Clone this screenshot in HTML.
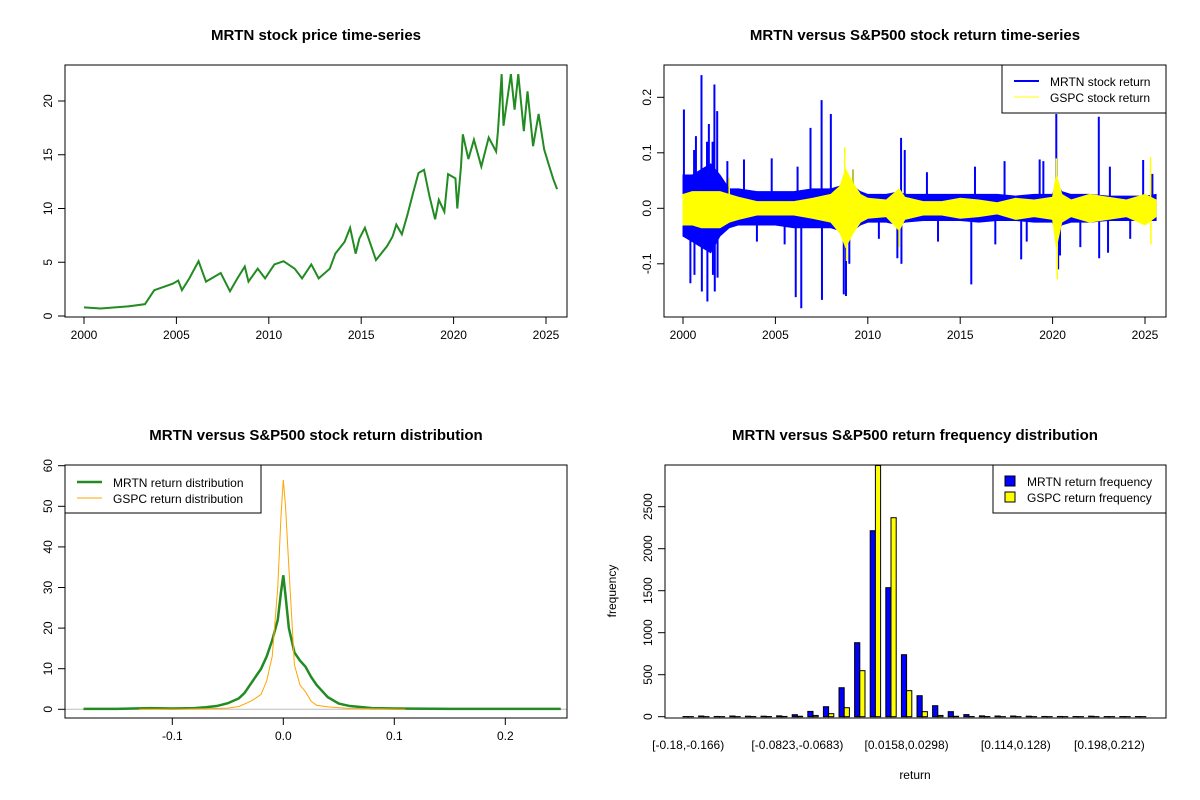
<!DOCTYPE html>
<html><head><meta charset="utf-8"><style>
html,body{margin:0;padding:0;background:#fff}
svg{display:block;font-family:"Liberation Sans",Arial,sans-serif}
.t{font-weight:bold;font-size:15px;text-anchor:middle}
.tk{font-size:12px;text-anchor:middle}
.lg{font-size:12px}
</style></head><body>
<svg id="c" width="1200" height="800" viewBox="0 0 1200 800" xmlns="http://www.w3.org/2000/svg">
<defs>
<clipPath id="cp2"><rect x="664" y="65" width="502" height="252"/></clipPath>
<clipPath id="cp4"><rect x="665" y="465" width="501" height="253"/></clipPath>
</defs>
<text class="t" x="316" y="40">MRTN stock price time-series</text>
<text class="t" x="915" y="40">MRTN versus S&amp;P500 stock return time-series</text>
<text class="t" x="316" y="440">MRTN versus S&amp;P500 stock return distribution</text>
<text class="t" x="915" y="440">MRTN versus S&amp;P500 return frequency distribution</text>
<g id="g1"></g>
<g id="g2"></g>
<g id="g3"></g>
<g id="g4"></g>
<rect x="65" y="65" width="502" height="252" fill="none" stroke="#000"/>
<rect x="664" y="65" width="502" height="252" fill="none" stroke="#000"/>
<rect x="65" y="465" width="502" height="253" fill="none" stroke="#000"/>
<rect x="665" y="465" width="501" height="253" fill="none" stroke="#000"/>
<g>
<rect x="1002" y="65" width="164" height="48" fill="#fff" stroke="#000"/>
<line x1="1014" y1="81" x2="1039" y2="81" stroke="#0000ff" stroke-width="2"/>
<line x1="1014" y1="97" x2="1039" y2="97" stroke="#ffff00" stroke-width="1"/>
<text class="lg" x="1050" y="86">MRTN stock return</text>
<text class="lg" x="1050" y="102">GSPC stock return</text>
</g>
<g>
<rect x="65" y="465" width="196" height="48" fill="#fff" stroke="#000"/>
<line x1="77" y1="482" x2="102" y2="482" stroke="#228b22" stroke-width="2.5"/>
<line x1="77" y1="498" x2="102" y2="498" stroke="#ffa500" stroke-width="1"/>
<text class="lg" x="113" y="487">MRTN return distribution</text>
<text class="lg" x="113" y="503">GSPC return distribution</text>
</g>
<g>
<rect x="993" y="465" width="173" height="48" fill="#fff" stroke="#000"/>
<rect x="1005" y="476" width="10" height="10" fill="#0000ff" stroke="#000"/>
<rect x="1005" y="492" width="10" height="10" fill="#ffff00" stroke="#000"/>
<text class="lg" x="1027" y="486">MRTN return frequency</text>
<text class="lg" x="1027" y="502">GSPC return frequency</text>
</g>
<text class="tk" x="915" y="779">return</text>
<text class="tk" transform="translate(616,591) rotate(-90)">frequency</text>
</svg>
<script>
// ---- price data ----
const priceYears=[2000,2000.9,2002.4,2003.3,2003.8,2004.8,2005.1,2005.3,2005.7,2006.2,2006.6,2007.4,2007.9,2008.3,2008.7,2008.9,2009.4,2009.8,2010.3,2010.8,2011.4,2011.8,2012.3,2012.7,2013.3,2013.6,2014.1,2014.4,2014.7,2014.9,2015.2,2015.6,2015.8,2016.4,2016.7,2016.9,2017.2,2017.5,2017.8,2018.1,2018.4,2018.7,2019.0,2019.2,2019.5,2019.7,2020.1,2020.2,2020.4,2020.5,2020.8,2021.1,2021.5,2021.9,2022.3,2022.4,2022.6,2022.7,2023.1,2023.3,2023.5,2023.8,2024.0,2024.3,2024.6,2024.9,2025.2,2025.4,2025.6];
const priceValues=[0.8,0.7,0.9,1.1,2.4,3.0,3.3,2.4,3.5,5.1,3.2,4.0,2.3,3.5,4.6,3.2,4.4,3.5,4.8,5.1,4.4,3.5,4.8,3.5,4.4,5.8,6.9,8.2,5.8,7.2,8.2,6.2,5.2,6.5,7.4,8.5,7.6,9.4,11.4,13.3,13.6,11.1,9.0,10.8,9.7,13.2,12.8,10.0,13.9,16.9,14.6,16.4,13.9,16.6,15.3,17.2,22.5,17.7,22.5,19.2,22.5,17.2,20.9,15.8,18.8,15.5,13.8,12.7,11.8];
const priceYTicks=[0,5,10,15,20];
const yearTicks=[2000,2005,2010,2015,2020,2025];
// ---- return data ----
const bandYears=[2000,2000.5,2001,2001.5,2002,2002.5,2003,2004,2005,2006,2007,2008,2008.5,2008.8,2009.2,2009.6,2010,2011,2011.7,2012,2013,2014,2015,2016,2017,2018,2019,2020,2020.2,2020.5,2021,2022,2023,2024,2025,2025.6];
const mrtnHigh=[0.06,0.06,0.07,0.08,0.06,0.035,0.035,0.03,0.03,0.03,0.035,0.035,0.04,0.05,0.04,0.03,0.025,0.025,0.03,0.025,0.025,0.025,0.025,0.025,0.025,0.022,0.025,0.025,0.045,0.03,0.025,0.025,0.022,0.022,0.022,0.025];
const mrtnLow=[-0.05,-0.06,-0.07,-0.08,-0.05,-0.035,-0.03,-0.03,-0.03,-0.035,-0.035,-0.035,-0.04,-0.05,-0.04,-0.03,-0.025,-0.025,-0.03,-0.025,-0.022,-0.022,-0.022,-0.025,-0.022,-0.022,-0.025,-0.025,-0.045,-0.03,-0.025,-0.025,-0.022,-0.022,-0.022,-0.022];
const gspcHigh=[0.025,0.03,0.03,0.03,0.03,0.025,0.02,0.012,0.012,0.012,0.018,0.025,0.04,0.07,0.045,0.025,0.018,0.015,0.035,0.02,0.012,0.012,0.018,0.015,0.01,0.018,0.015,0.02,0.06,0.025,0.015,0.025,0.02,0.015,0.025,0.015];
const gspcLow=[-0.03,-0.03,-0.035,-0.035,-0.035,-0.025,-0.02,-0.012,-0.012,-0.012,-0.018,-0.025,-0.045,-0.07,-0.045,-0.025,-0.018,-0.015,-0.04,-0.02,-0.012,-0.012,-0.018,-0.015,-0.01,-0.02,-0.015,-0.02,-0.07,-0.025,-0.015,-0.025,-0.02,-0.015,-0.03,-0.015];
const mrtnSpikeYears=[2000.05,2000.3,2000.6,2000.7,2001.0,2001.3,2001.4,2001.6,2001.7,2001.85,2002.4,2003.3,2004.8,2006.2,2006.9,2007.5,2008.0,2009.2,2011.8,2012.0,2013.2,2015.8,2017.4,2019.3,2019.5,2020.2,2022.5,2023.1,2024.9,2025.4,2000.4,2000.62,2001.02,2001.32,2001.62,2001.72,2001.87,2006.1,2006.4,2007.52,2008.7,2008.82,2009.0,2011.6,2011.82,2015.6,2018.3,2020.3,2020.4,2022.52,2023.0,2004.0,2005.5,2010.6,2013.8,2016.9,2018.6,2021.5,2024.2];
const mrtnSpikeValues=[0.178,0.06,0.105,0.13,0.24,0.12,0.152,0.12,0.223,0.175,0.085,0.088,0.09,0.075,0.145,0.195,0.17,0.07,0.127,0.105,0.065,0.075,0.085,0.088,0.085,0.17,0.165,0.075,0.087,0.062,-0.135,-0.12,-0.15,-0.168,-0.12,-0.15,-0.125,-0.16,-0.18,-0.165,-0.155,-0.158,-0.1,-0.09,-0.1,-0.137,-0.092,-0.11,-0.085,-0.09,-0.08,-0.06,-0.065,-0.055,-0.06,-0.065,-0.06,-0.07,-0.055];
const gspcSpikeYears=[2008.75,2008.85,2009.2,2011.7,2020.2,2020.25,2025.3,2025.32,2002.5];
const gspcSpikeValues=[0.11,-0.095,0.07,-0.07,0.09,-0.128,0.092,-0.065,0.055];
const returnYTicks=[-0.1,0.0,0.1,0.2];
const returnYLabels=["-0.1","0.0","0.1","0.2"];
// ---- density data ----
const mrtnDensX=[-0.18,-0.15,-0.12,-0.1,-0.08,-0.07,-0.06,-0.05,-0.04,-0.035,-0.03,-0.025,-0.02,-0.015,-0.01,-0.005,-0.002,0,0.002,0.005,0.01,0.015,0.02,0.025,0.03,0.035,0.04,0.05,0.06,0.08,0.1,0.15,0.2,0.25];
const mrtnDensY=[0.1,0.1,0.3,0.2,0.3,0.5,0.8,1.5,2.7,4,6,8,10,13,17,22,29,33,28,20,14,12,10.5,8,6,4.5,3,1.4,0.8,0.3,0.2,0.1,0.1,0.1];
const gspcDensX=[-0.13,-0.09,-0.06,-0.05,-0.04,-0.03,-0.025,-0.02,-0.015,-0.01,-0.005,-0.002,0,0.002,0.005,0.01,0.015,0.02,0.025,0.03,0.04,0.06,0.1,0.11];
const gspcDensY=[0,0.05,0.2,0.3,0.7,1.9,2.7,3.7,7,13,30,48,56.5,50,35,11,6,4.3,2,1,0.6,0.2,0.05,0];
const densXTicks=[-0.1,0,0.1,0.2];
const densXLabels=["-0.1","0.0","0.1","0.2"];
const densYTicks=[0,10,20,30,40,50,60];
// ---- histogram data ----
const binLabels=["[-0.18,-0.166)","","","","","","","[-0.0823,-0.0683)","","","","","","","[0.0158,0.0298)","","","","","","","[0.114,0.128)","","","","","","[0.198,0.212)","",""];
const mrtnFreq=[2,8,3,8,6,6,10,24,63,119,345,881,2214,1536,738,250,131,60,25,10,8,8,6,3,3,2,6,2,2,2];
const gspcFreq=[1,1,1,1,2,2,3,5,15,36,107,548,2990,2369,310,60,15,5,2,2,1,1,1,1,1,1,1,1,1,1];
const histYTicks=[0,500,1000,1500,2000,2500];

const NS="http://www.w3.org/2000/svg";
function mk(tag,attrs,parent){const e=document.createElementNS(NS,tag);for(const k in attrs)e.setAttribute(k,attrs[k]);parent.appendChild(e);return e;}
const g1=document.getElementById('g1'),g2=document.getElementById('g2'),g3=document.getElementById('g3'),g4=document.getElementById('g4');
let el;
// axes helpers
function xAxis(g,ticks,labels,sx,y0){
  el=mk('line',{x1:sx(ticks[0]),x2:sx(ticks[ticks.length-1]),y1:y0,y2:y0,stroke:'#000'},g);
  
  
  ticks.forEach((t,i)=>{
    el=mk('line',{x1:sx(t),x2:sx(t),y1:y0,y2:y0+7,stroke:'#000'},g);
    
    
    el=mk('text',{x:sx(t),y:y0+22,class:'tk'},g);el.textContent=labels[i];
    
    
  });
}
function yAxis(g,ticks,labels,sy,x0){
  el=mk('line',{x1:x0,x2:x0,y1:sy(ticks[0]),y2:sy(ticks[ticks.length-1]),stroke:'#000'},g);
  
  
  ticks.forEach((t,i)=>{
    el=mk('line',{x1:x0-7,x2:x0,y1:sy(t),y2:sy(t),stroke:'#000'},g);
    
    
    el=mk('text',{class:'tk',transform:`translate(${x0-13},${sy(t)}) rotate(-90)`},g);el.textContent=labels[i];
    
    
  });
}
// ---- panel 1 ----
const x1s=y=>84+18.48*(y-2000), y1s=v=>316-10.75*v;
xAxis(g1,yearTicks,yearTicks.map(String),x1s,317);
yAxis(g1,priceYTicks,priceYTicks.map(String),y1s,65);
el=mk('polyline',{points:priceYears.map((y,i)=>x1s(y)+','+y1s(priceValues[i])).join(' '),fill:'none',stroke:'#228b22','stroke-width':2},g1);


// ---- panel 2 ----
const x2s=y=>683+18.48*(y-2000), y2s=v=>208.3-555*v;
xAxis(g2,yearTicks,yearTicks.map(String),x2s,317);
yAxis(g2,returnYTicks,returnYLabels,y2s,664);
const c2=mk('g',{'clip-path':'url(#cp2)'},g2);
function band(hi,lo,col,name){
  const pts=bandYears.map((y,i)=>x2s(y)+','+y2s(hi[i])).concat(bandYears.map((y,i)=>x2s(y)+','+y2s(lo[i])).reverse());
  el=mk('polygon',{points:pts.join(' '),fill:col,stroke:col},c2);
  
  
}
band(mrtnHigh,mrtnLow,'#0000ff','mrtn-return-band');
mrtnSpikeYears.forEach((y,i)=>{
  el=mk('line',{x1:x2s(y),x2:x2s(y),y1:y2s(0),y2:y2s(mrtnSpikeValues[i]),stroke:'#0000ff','stroke-width':2},c2);
  
  
});
band(gspcHigh,gspcLow,'#ffff00','gspc-return-band');
gspcSpikeYears.forEach((y,i)=>{
  el=mk('line',{x1:x2s(y),x2:x2s(y),y1:y2s(0),y2:y2s(gspcSpikeValues[i]),stroke:'#ffff00','stroke-width':1.5},c2);
  
  
});
// ---- panel 3 ----
const x3s=v=>283.3+1110*v, y3s=v=>709.3-4.06*v;
xAxis(g3,densXTicks,densXLabels,x3s,718);
yAxis(g3,densYTicks,densYTicks.map(String),y3s,65);
el=mk('line',{x1:65,x2:567,y1:y3s(0),y2:y3s(0),stroke:'#bebebe'},g3);


el=mk('polyline',{points:mrtnDensX.map((x,i)=>x3s(x)+','+y3s(mrtnDensY[i])).join(' '),fill:'none',stroke:'#228b22','stroke-width':2.5},g3);


el=mk('polyline',{points:gspcDensX.map((x,i)=>x3s(x)+','+y3s(gspcDensY[i])).join(' '),fill:'none',stroke:'#ffa500','stroke-width':1},g3);


// ---- panel 4 ----
const cx4=g=>688.2+g*15.6, y4s=v=>716.7-0.084*v, bw=5.2;
yAxis(g4,histYTicks,histYTicks.map(String),y4s,665);
const c4=mk('g',{'clip-path':'url(#cp4)'},g4);
mrtnFreq.forEach((v,g)=>{
  el=mk('rect',{x:cx4(g)-bw,y:y4s(v),width:bw,height:y4s(0)-y4s(v),fill:'#0000ff',stroke:'#000'},c4);
  
  
});
gspcFreq.forEach((v,g)=>{
  el=mk('rect',{x:cx4(g),y:y4s(v),width:bw,height:y4s(0)-y4s(v),fill:'#ffff00',stroke:'#000'},c4);
  
  
});
binLabels.forEach((l,g)=>{
  if(!l)return;
  el=mk('text',{x:cx4(g),y:749,class:'tk'},g4);el.textContent=l;
  
  
});
</script>
</body></html>
